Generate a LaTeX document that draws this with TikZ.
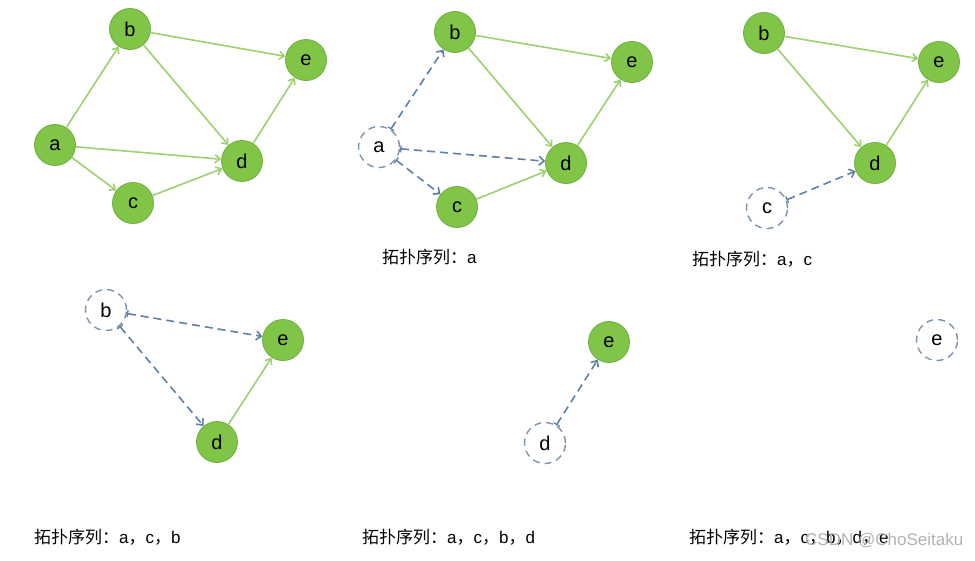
\documentclass[tikz,border=0pt]{standalone}
\usepackage{fontspec}
\setmainfont{Liberation Sans}
\newfontfamily\cjk{Noto Sans CJK SC}
\newcommand{\zh}[1]{{\cjk #1}}
\usetikzlibrary{arrows.meta}
\definecolor{nodegreen}{HTML}{80C548}
\definecolor{nodeborder}{HTML}{6FAE3C}
\definecolor{edgegreen}{HTML}{9DD070}
\definecolor{dashblue}{HTML}{5E80A8}
\definecolor{circblue}{HTML}{7F95AD}
\tikzset{
  gnode/.style={circle, fill=nodegreen, draw=nodeborder, line width=0.8pt, minimum size=41pt, inner sep=0pt, font=\fontsize{20}{20}\selectfont},
  dnode/.style={circle, fill=white, draw=circblue, line width=1.4pt, dash pattern=on 7pt off 5pt, minimum size=41pt, inner sep=0pt, font=\fontsize{20}{20}\selectfont},
  gedge/.style={draw=edgegreen, line width=1.6pt, -{Straight Barb[length=5pt,width=8pt]}},
  dedge/.style={draw=dashblue, line width=1.6pt, dash pattern=on 8pt off 5pt, {Bar[width=7pt,line width=1.3pt]}-{Straight Barb[length=5pt,width=9pt]}},
  seqlabel/.style={anchor=west, inner sep=0pt, font=\fontsize{17}{17}\selectfont},
}
\begin{document}
\begin{tikzpicture}[x=1pt, y=-1pt]
\useasboundingbox (0,0) rectangle (975,560);
% panel 1
\node[gnode] (b1) at (130,29) {b};
\node[gnode] (e1) at (306,60) {e};
\node[gnode] (a1) at (55,145) {a};
\node[gnode] (d1) at (242,161) {d};
\node[gnode] (c1) at (133,203) {c};
\draw[gedge] (a1) -- (b1);
\draw[gedge] (a1) -- (c1);
\draw[gedge] (a1) -- (d1);
\draw[gedge] (b1) -- (e1);
\draw[gedge] (b1) -- (d1);
\draw[gedge] (c1) -- (d1);
\draw[gedge] (d1) -- (e1);
% panel 2
\node[gnode] (b2) at (455,32) {b};
\node[gnode] (e2) at (632,62) {e};
\node[dnode] (a2) at (379,147) {a};
\node[gnode] (d2) at (566,163) {d};
\node[gnode] (c2) at (457,207) {c};
\draw[dedge] (a2) -- (b2);
\draw[dedge] (a2) -- (c2);
\draw[dedge] (a2) -- (d2);
\draw[gedge] (b2) -- (e2);
\draw[gedge] (b2) -- (d2);
\draw[gedge] (c2) -- (d2);
\draw[gedge] (d2) -- (e2);
\node[seqlabel] (l2) at (382,257) {\zh{拓扑序列：}a};
% panel 3
\node[gnode] (b3) at (764,33) {b};
\node[gnode] (e3) at (939,62) {e};
\node[gnode] (d3) at (875,163) {d};
\node[dnode] (c3) at (767,208) {c};
\draw[dedge] (c3) -- (d3);
\draw[gedge] (b3) -- (e3);
\draw[gedge] (b3) -- (d3);
\draw[gedge] (d3) -- (e3);
\node[seqlabel] (l3) at (692,259) {\zh{拓扑序列：}a\zh{，}c};
% panel 4
\node[dnode] (b4) at (106,310) {b};
\node[gnode] (e4) at (283,340) {e};
\node[gnode] (d4) at (217,442) {d};
\draw[dedge] (b4) -- (e4);
\draw[dedge] (b4) -- (d4);
\draw[gedge] (d4) -- (e4);
\node[seqlabel] (l4) at (34,537) {\zh{拓扑序列：}a\zh{，}c\zh{，}b};
% panel 5
\node[gnode] (e5) at (609,342) {e};
\node[dnode] (d5) at (545,443) {d};
\draw[dedge] (d5) -- (e5);
\node[seqlabel] (l5) at (362,537) {\zh{拓扑序列：}a\zh{，}c\zh{，}b\zh{，}d};
% panel 6
\node[dnode] (e6) at (937,340) {e};
\node[seqlabel] (l6) at (689,537) {\zh{拓扑序列：}a\zh{，}c\zh{，}b\zh{，}d\zh{，}e};
\node[anchor=west, inner sep=0pt, text=black!30, font=\fontsize{17}{17}\selectfont] (wm) at (805,541) {CSDN @ChoSeitaku};
\end{tikzpicture}
\end{document}
